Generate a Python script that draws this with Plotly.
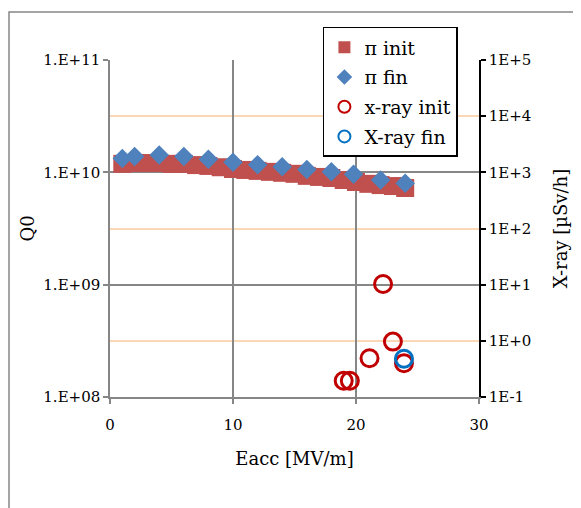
import plotly.graph_objects as go

# π init (Q0)
pi_init_x = list(range(1, 25))
pi_init_q0 = [1.19e10, 1.21e10, 1.21e10, 1.21e10, 1.19e10, 1.19e10, 1.16e10, 1.14e10,
              1.11e10, 1.07e10, 1.05e10, 1.03e10, 1.01e10, 9.9e9, 9.7e9, 9.3e9,
              9.1e9, 8.9e9, 8.55e9, 8.2e9, 7.9e9, 7.7e9, 7.55e9, 7.25e9]
# π fin (Q0)
pi_fin_x = [1, 2, 4, 6, 8, 10, 12, 14, 16, 18, 19.8, 22, 24]
pi_fin_q0 = [1.33e10, 1.38e10, 1.43e10, 1.38e10, 1.31e10, 1.23e10, 1.17e10, 1.12e10,
             1.06e10, 1.01e10, 9.6e9, 8.55e9, 7.98e9]
# X-ray (µSv/h)
xray_init_x = [19.0, 19.5, 21.1, 22.2, 23.0, 23.9]
xray_init_v = [0.195, 0.195, 0.49, 10.3, 0.97, 0.40]
xray_fin_x = [23.9]
xray_fin_v = [0.48]

left_ticks = [1e8, 1e9, 1e10, 1e11]
left_labels = ["1.E+08", "1.E+09", "1.E+10", "1.E+11"]
right_ticks = [1e-1, 1e0, 1e1, 1e2, 1e3, 1e4, 1e5]
right_labels = ["1E-1", "1E+0", "1E+1", "1E+2", "1E+3", "1E+4", "1E+5"]

FONT = "DejaVu Serif, Liberation Serif, serif"
GRAY = "#868686"
tickfont = dict(family=FONT, size=15, color="black")
titlefont = dict(family=FONT, size=18, color="black")

fig = go.Figure()
fig.add_trace(go.Scatter(x=pi_init_x, y=pi_init_q0, mode="markers", name="π init",
                         legendgroup="a",
                         marker=dict(symbol="square", size=18, color="#C0504D")))
fig.add_trace(go.Scatter(x=pi_fin_x, y=pi_fin_q0, mode="markers", name="π fin",
                         legendgroup="b",
                         marker=dict(symbol="diamond", size=15, color="#4F81BD")))
fig.add_trace(go.Scatter(x=xray_init_x, y=xray_init_v, mode="markers", name="x-ray init",
                         yaxis="y2", legendgroup="c",
                         marker=dict(symbol="circle-open", size=17, color="#C00000",
                                     line=dict(width=3, color="#C00000"))))
fig.add_trace(go.Scatter(x=xray_fin_x, y=xray_fin_v, mode="markers", name="X-ray fin",
                         yaxis="y2", legendgroup="d",
                         marker=dict(symbol="circle-open", size=17, color="#0070C0",
                                     line=dict(width=3, color="#0070C0"))))

fig.update_layout(
    width=581, height=508,
    margin=dict(l=102, r=110, t=52, b=119),
    paper_bgcolor="white", plot_bgcolor="white",
    font=dict(family=FONT, size=15, color="black"),
    showlegend=True,
    legend=dict(x=0.577, y=1.098, xanchor="left", yanchor="top",
                bgcolor="white", bordercolor="black", borderwidth=1.5,
                font=dict(family=FONT, size=19, color="black"),
                itemsizing="constant", traceorder="grouped", tracegroupgap=2),
    xaxis=dict(range=[0, 30], tickvals=[0, 10, 20, 30], ticktext=["0", "10", "20", "30"],
               tickfont=tickfont, ticklabelstandoff=8,
               showgrid=True, gridcolor=GRAY, gridwidth=1.5,
               showline=True, linecolor=GRAY, linewidth=1.5,
               ticks="outside", tickcolor=GRAY, ticklen=5, tickwidth=1.5,
               zeroline=False,
               title=dict(text="Eacc [MV/m]", font=titlefont, standoff=20)),
    yaxis=dict(type="log", range=[8, 11], tickvals=left_ticks, ticktext=left_labels,
               tickfont=tickfont,
               showgrid=True, gridcolor=GRAY, gridwidth=1.5,
               showline=True, linecolor=GRAY, linewidth=1.5,
               ticks="outside", tickcolor=GRAY, ticklen=5, tickwidth=1.5,
               zeroline=False,
               title=dict(text="Q0", font=titlefont, standoff=4)),
    yaxis2=dict(type="log", range=[-1, 5], overlaying="y", side="right",
                tickvals=right_ticks, ticktext=right_labels,
                tickfont=tickfont,
                showgrid=False,
                minor=dict(tickvals=[1e0, 1e2, 1e4], showgrid=True,
                           gridcolor="#FAD7B5", gridwidth=1.5, ticks=""),
                showline=True, linecolor="black", linewidth=1.5,
                ticks="outside", tickcolor="black", ticklen=5, tickwidth=1.5,
                zeroline=False,
                title=dict(text="X-ray [µSv/h]", font=titlefont, standoff=24)),
    shapes=[dict(type="rect", xref="paper", yref="paper",
                 x0=(1 - 102) / 369, x1=1.6, y0=(389 - 4) / 337, y1=-0.6,
                 line=dict(color=GRAY, width=1.5), fillcolor="rgba(0,0,0,0)",
                 layer="below")],
)

fig.write_html("out.html")
